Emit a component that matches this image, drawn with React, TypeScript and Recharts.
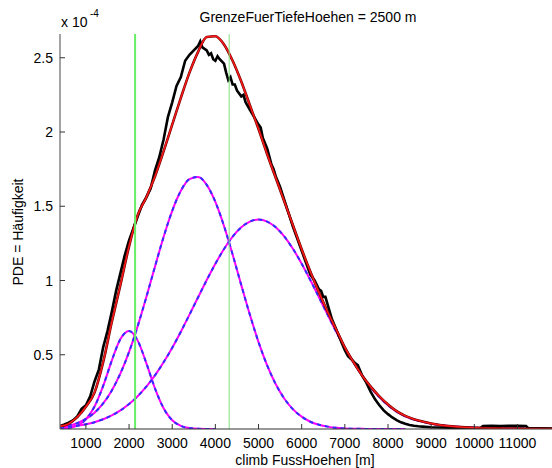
import { ComposedChart, Line, XAxis, YAxis, ReferenceLine } from "recharts";

// grid for the fitted curves (m)
const compX = [
  400, 600, 800, 1000, 1200, 1400, 1600, 1800, 2000, 2200, 2400, 2600, 2800, 3000, 3200, 3400, 3600, 3800, 4000,
  4200, 4400, 4600, 4800, 5000, 5200, 5400, 5600, 5800, 6000, 6200, 6400, 6600, 6800, 7000, 7200, 7400, 7600,
  7800, 8000, 8200, 8400, 8600, 8800, 9000, 9200, 9400, 9600, 9800, 10000, 10200, 10400, 10600, 10800, 11000,
  11200, 11400, 11600, 11800,
];

// values in 1e-4
const comp1 = [
  0.002, 0.007, 0.023, 0.065, 0.151, 0.29, 0.461, 0.606, 0.66, 0.595, 0.444, 0.274, 0.14, 0.059, 0.021, 0.006,
  0.0014, 0.0003, 0,
];

const comp2 = [
  0.012, 0.023, 0.04, 0.068, 0.11, 0.172, 0.259, 0.374, 0.519, 0.693, 0.888, 1.093, 1.293, 1.469, 1.604, 1.683,
  1.697, 1.644, 1.529, 1.367, 1.175, 0.969, 0.769, 0.585, 0.429, 0.301, 0.204, 0.132, 0.083, 0.049, 0.029, 0.016,
  0.008, 0.004, 0.002, 0.001, 0.0005, 0.0002, 0.0001, 0, 0,
];

const comp3 = [
  0.0095, 0.0145, 0.022, 0.032, 0.046, 0.066, 0.092, 0.125, 0.168, 0.221, 0.285, 0.361, 0.449, 0.547, 0.655, 0.77,
  0.887, 1.003, 1.113, 1.212, 1.295, 1.358, 1.397, 1.41, 1.397, 1.358, 1.295, 1.212, 1.113, 1.003, 0.887, 0.77,
  0.655, 0.547, 0.449, 0.36, 0.28, 0.215, 0.16, 0.117, 0.085, 0.064, 0.049, 0.036, 0.027, 0.02, 0.015, 0.011,
  0.008, 0.006, 0.005, 0.004, 0.003, 0.003, 0.002, 0.002, 0.001, 0.001,
];

const fitSum = [
  0.018, 0.035, 0.08, 0.15, 0.245, 0.45, 0.72, 0.97, 1.23, 1.44, 1.56, 1.7, 1.87, 2.05, 2.23, 2.4, 2.54, 2.64,
  2.645, 2.59, 2.48, 2.34, 2.18, 2.02, 1.85, 1.69, 1.53, 1.37, 1.21, 1.06, 0.92, 0.79, 0.67, 0.55, 0.45, 0.36,
  0.285, 0.22, 0.165, 0.12, 0.088, 0.066, 0.05, 0.037, 0.027, 0.02, 0.015, 0.011, 0.008, 0.006, 0.005, 0.004,
  0.003, 0.003, 0.002, 0.002, 0.001, 0.001,
];

// empirical density
const histX = [
  400, 500, 600, 700, 800, 900, 1000, 1100, 1200, 1300, 1400, 1500, 1600, 1700, 1800, 1900, 2000, 2100, 2200,
  2300, 2400, 2500, 2600, 2700, 2800, 2900, 3000, 3100, 3200, 3300, 3400, 3500, 3600, 3650, 3700, 3800, 3850,
  3900, 3950, 4000, 4050, 4100, 4200, 4250, 4300, 4350, 4400, 4450, 4500, 4600, 4650, 4700, 4800, 4900, 5000,
  5050, 5100, 5200, 5300, 5350, 5400, 5500, 5600, 5700, 5800, 5900, 6000, 6100, 6200, 6300, 6400, 6450, 6500,
  6550, 6600, 6700, 6800, 6900, 7000, 7074, 7150, 7250, 7300, 7400, 7500, 7600, 7700, 7800, 7900, 8000, 8100,
  8200, 8300, 8400, 8500, 8600, 8700, 8800, 9000, 9200, 9400, 9600, 9800, 10000, 10150, 10200, 10400, 10600,
  10800, 11000, 11200, 11250, 11500, 11800,
];
const histY = [
  0.02, 0.03, 0.042, 0.058, 0.085, 0.135, 0.16, 0.22, 0.32, 0.4, 0.55, 0.66, 0.79, 0.93, 1.05, 1.17, 1.27, 1.35,
  1.43, 1.51, 1.56, 1.62, 1.74, 1.83, 1.95, 2.1, 2.2, 2.31, 2.37, 2.48, 2.52, 2.55, 2.58, 2.61, 2.57, 2.55, 2.52,
  2.53, 2.49, 2.48, 2.51, 2.49, 2.46, 2.4, 2.35, 2.37, 2.32, 2.32, 2.28, 2.24, 2.25, 2.2, 2.15, 2.1, 2.05, 2.03,
  1.96, 1.89, 1.78, 1.75, 1.7, 1.63, 1.54, 1.45, 1.36, 1.28, 1.2, 1.12, 1.04, 1.0, 0.94, 0.93, 0.89, 0.89, 0.84,
  0.74, 0.67, 0.6, 0.53, 0.49, 0.47, 0.44, 0.43, 0.36, 0.31, 0.25, 0.2, 0.16, 0.125, 0.1, 0.078, 0.06, 0.045,
  0.035, 0.027, 0.022, 0.018, 0.016, 0.012, 0.01, 0.009, 0.008, 0.007, 0.007, 0.008, 0.02, 0.021, 0.02, 0.021,
  0.021, 0.02, 0.006, 0.004, 0.003,
];

const xTicks = [1000, 2000, 3000, 4000, 5000, 6000, 7000, 8000, 9000, 10000, 11000];
const yTicks = [0.5, 1, 1.5, 2, 2.5];
const thresholdX = [2140, 4320];

const compData = compX.map((x, i) => ({
  x,
  c1: comp1[i] ?? null,
  c2: comp2[i] ?? null,
  c3: comp3[i] ?? null,
  fit: fitSum[i] ?? null,
}));
const histData = histX.map((x, i) => ({ x, y: histY[i] }));

const FONT = "'Liberation Sans', Arial, Helvetica, sans-serif";

function XTick({ x, y, payload }: any) {
  return (
    <g>
      <line x1={x} x2={x} y1={y} y2={y - 5} stroke="#333" />
      <text x={x} y={y + 19} textAnchor="middle" fontSize={14} fill="#000" fontFamily={FONT}>
        {payload.value}
      </text>
    </g>
  );
}

function YTick({ x, y, payload }: any) {
  return (
    <g>
      <line x1={x} x2={x + 5} y1={y} y2={y} stroke="#333" />
      <text x={x - 7} y={y + 5} textAnchor="end" fontSize={14} fill="#000" fontFamily={FONT}>
        {String(payload.value)}
      </text>
    </g>
  );
}

const txt = { position: "absolute" as const, fontFamily: FONT, fontSize: 14, lineHeight: "16px", color: "#000", whiteSpace: "nowrap" as const };

export default function App() {
  return (
    <div style={{ position: "relative", width: 552, height: 468, background: "#fff", overflow: "hidden" }}>
      <style>{"body{margin:0}"}</style>
      <ComposedChart width={552} height={468} margin={{ top: 34, right: 0, bottom: 0, left: 0 }}>
        <XAxis
          type="number"
          dataKey="x"
          domain={[400, 11800]}
          ticks={xTicks}
          interval={0}
          allowDataOverflow
          height={39}
          tickSize={0}
          tickMargin={0}
          tickLine={false}
          tick={<XTick />}
          axisLine={{ stroke: "#333", strokeWidth: 1.2 }}
        />
        <YAxis
          type="number"
          domain={[0, 2.66]}
          ticks={yTicks}
          interval={0}
          allowDataOverflow
          width={60}
          tickSize={0}
          tickMargin={0}
          tickLine={false}
          tick={<YTick />}
          axisLine={{ stroke: "#666", strokeWidth: 1.2 }}
        />
        {/* mixture components: magenta with blue dashes */}
        <Line data={compData} dataKey="c1" type="monotone" stroke="#ff00ff" strokeWidth={2} dot={false} activeDot={false} isAnimationActive={false} />
        <Line data={compData} dataKey={(d: any) => d.c1} type="monotone" stroke="#3030ff" strokeWidth={2} strokeDasharray="4 4" dot={false} activeDot={false} isAnimationActive={false} />
        <Line data={compData} dataKey="c2" type="monotone" stroke="#ff00ff" strokeWidth={2} dot={false} activeDot={false} isAnimationActive={false} />
        <Line data={compData} dataKey={(d: any) => d.c2} type="monotone" stroke="#3030ff" strokeWidth={2} strokeDasharray="4 4" dot={false} activeDot={false} isAnimationActive={false} />
        <Line data={compData} dataKey="c3" type="monotone" stroke="#ff00ff" strokeWidth={2} dot={false} activeDot={false} isAnimationActive={false} />
        <Line data={compData} dataKey={(d: any) => d.c3} type="monotone" stroke="#3030ff" strokeWidth={2} strokeDasharray="4 4" dot={false} activeDot={false} isAnimationActive={false} />
        {/* empirical */}
        <Line data={histData} dataKey="y" type="linear" stroke="#000" strokeWidth={2.6} dot={false} activeDot={false} isAnimationActive={false} />
        {/* total fit */}
        <Line data={compData} dataKey="fit" type="monotone" stroke="#700000" strokeWidth={2.6} dot={false} activeDot={false} isAnimationActive={false} />
        <Line data={compData} dataKey={(d: any) => d.fit} type="monotone" stroke="#ff1a1a" strokeWidth={1.4} dot={false} activeDot={false} isAnimationActive={false} />
        <ReferenceLine x={thresholdX[0]} stroke="#66ee66" strokeWidth={2} />
        <ReferenceLine x={thresholdX[1]} stroke="#7ee07e" strokeWidth={1} />
      </ComposedChart>
      <div style={{ ...txt, left: 308, top: 9, transform: "translateX(-50%)" }}>GrenzeFuerTiefeHoehen = 2500 m</div>
      <div style={{ ...txt, left: 61, top: 14 }}>x 10</div>
      <div style={{ ...txt, left: 90, top: 8, fontSize: 10, lineHeight: "12px" }}>-4</div>
      <div style={{ ...txt, left: 305, top: 452, transform: "translateX(-50%)" }}>climb FussHoehen [m]</div>
      <div style={{ ...txt, left: 18, top: 232, transform: "translate(-50%, -50%) rotate(-90deg)" }}>PDE = Häufigkeit</div>
    </div>
  );
}
